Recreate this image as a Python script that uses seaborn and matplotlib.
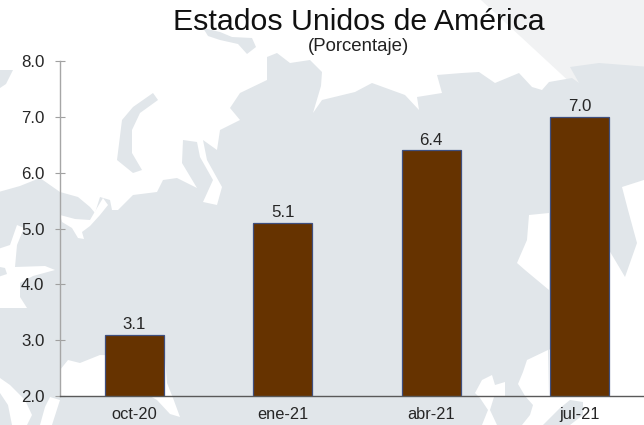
import matplotlib
matplotlib.use("Agg")
import matplotlib.pyplot as plt
import pandas as pd
import seaborn as sns

# chart values
periodos = ['oct-20', 'ene-21', 'abr-21', 'jul-21']
valores = [3.1, 5.1, 6.4, 7.0]
y_ticks = [2.0, 3.0, 4.0, 5.0, 6.0, 7.0, 8.0]

# background map, traced in pixels of the picture
tierra = [(-5, 193), (20, 186), (40, 178), (60, 192), (78, 197), (90, 207), (95, 213), (100, 197),
          (110, 200), (112, 210), (118, 210), (133, 195), (157, 192), (163, 180), (177, 178),
          (197, 188), (182, 163), (183, 140), (197, 142), (200, 157), (213, 180), (203, 202),
          (217, 205), (222, 187), (217, 178), (207, 160), (203, 140), (217, 150), (220, 130),
          (240, 120), (230, 108), (240, 93), (267, 80), (267, 57), (277, 53), (290, 63), (310, 60),
          (322, 72), (321, 86), (313, 113), (322, 100), (355, 92), (372, 83), (405, 95), (419, 110),
          (417, 97), (442, 93), (437, 75), (462, 73), (479, 72), (495, 83), (519, 73), (532, 87),
          (542, 90), (549, 82), (572, 78), (579, 83), (570, 67), (599, 63), (650, 67), (650, 178),
          (622, 187), (628, 210), (637, 243), (625, 277), (609, 250), (600, 300), (549, 350),
          (549, 430), (-5, 430)]
oceano_luz = [(481, 0), (650, 0), (650, 110), (600, 110)]
novaya = [(153, 93), (158, 100), (140, 113), (132, 130), (132, 153), (142, 170), (133, 173),
          (117, 160), (122, 120), (133, 107)]
isla_norte = [(203, 28), (220, 32), (232, 37), (252, 38), (256, 47), (247, 54), (238, 44), (220, 40), (208, 36)]
isla_oeste = [(0, 70), (13, 70), (6, 84), (0, 88)]
isla_baltico = [(-5, 266), (5, 268), (7, 274), (-5, 278)]
japon = [(543, 425), (560, 408), (570, 400), (583, 402), (583, 415), (570, 425)]
aguas = [
    # mar blanco
    [(60, 215), (75, 219), (90, 220), (97, 208), (103, 198), (108, 205), (100, 215), (90, 226), (82, 232), (84, 239), (78, 238), (72, 228), (62, 222)],
    # baltico
    [(17, 225), (24, 228), (17, 245), (15, 267), (45, 266), (55, 270), (33, 276), (20, 283), (20, 297), (27, 308), (0, 308), (-5, 250), (10, 245)],
    # mar negro
    [(60, 370), (68, 360), (80, 363), (100, 355), (165, 357), (167, 383), (173, 398), (180, 417), (170, 414), (157, 400), (150, 396), (60, 396)],
    # mediterraneo
    [(0, 378), (10, 385), (25, 400), (32, 415), (27, 425), (12, 425), (8, 405), (0, 393)],
    [(50, 397), (60, 400), (52, 425), (40, 425), (45, 407)],
    # asia, detras de la ultima barra
    [(529, 215), (549, 213), (549, 290), (525, 270), (517, 263), (527, 240)],
    [(527, 360), (548, 350), (549, 396), (525, 396), (518, 384), (523, 372)],
    [(505, 382), (495, 385), (492, 375), (482, 380), (475, 393), (480, 398), (488, 410), (482, 425), (497, 425), (490, 410), (494, 397), (505, 397)],
    [(525, 396), (650, 396), (650, 430), (518, 430), (530, 415), (533, 405)],
]

sns.set_style('white')
plt.rcParams['font.family'] = ['Liberation Sans', 'DejaVu Sans']

fig = plt.figure(figsize=(6.44, 4.25), dpi=100)

# map layer
bg = fig.add_axes([0, 0, 1, 1], zorder=0)
bg.set_xlim(0, 644)
bg.set_ylim(425, 0)
bg.axis('off')
bg.fill(*zip(*oceano_luz), color='#f1f2f3', lw=0)
bg.fill(*zip(*tierra), color='#e1e6ea', lw=0)
for isla in [novaya, isla_norte, isla_oeste]:
    bg.fill(*zip(*isla), color='#e1e6ea', lw=0)
for agua in aguas:
    bg.fill(*zip(*agua), color='white', lw=0)
bg.fill(*zip(*japon), color='#e1e6ea', lw=0)
bg.fill(*zip(*isla_baltico), color='#e1e6ea', lw=0)

# the axes runs past the right edge of the picture, as in the original
ax = fig.add_axes([60 / 644, 1 - 396 / 425, 594 / 644, 335 / 425], zorder=1)
ax.patch.set_alpha(0)

df = pd.DataFrame({'periodo': periodos, 'valor': valores})
sns.barplot(x='periodo', y='valor', data=df, color='#663300', saturation=1, width=0.4,
            edgecolor='#3f4f7f', linewidth=0.9, ax=ax)
ax.bar_label(ax.containers[0], fmt='%.1f', padding=2, fontsize=12.2, color='#262626')

ax.set_xlim(-0.5, 3.5)
ax.set_ylim(2, 8)
ax.set_xlabel('')
ax.set_ylabel('')
ax.set_yticks(y_ticks)
ax.set_yticklabels(['%.1f' % v for v in y_ticks], fontsize=12.2, color='#262626')
ax.set_xticks(range(4))
ax.set_xticklabels(periodos, fontsize=11.8, color='#262626')
ax.set_xticks([0.5, 1.5, 2.5], minor=True)

ax.tick_params(axis='x', which='major', length=0, pad=8)
ax.tick_params(axis='x', which='minor', direction='in', length=3, width=0.8, color='#666666')
ax.tick_params(axis='y', direction='inout', length=7.5, width=0.8, color='#a0a0a0', pad=7.5, left=True)

sns.despine(ax=ax)
ax.spines['left'].set_color('#a6a6a6')
ax.spines['left'].set_linewidth(1.0)
ax.spines['bottom'].set_color('#595959')
ax.spines['bottom'].set_linewidth(1.0)

fig.text(358.5 / 644, 1 - 22.5 / 425, 'Estados Unidos de América', ha='center', va='center',
         fontsize=21.8, color='#111111', zorder=3)
fig.text(358.5 / 644, 1 - 46.5 / 425, '(Porcentaje)', ha='center', va='center',
         fontsize=13.4, color='#222222', zorder=3)

fig.savefig('out.png', dpi=100)
